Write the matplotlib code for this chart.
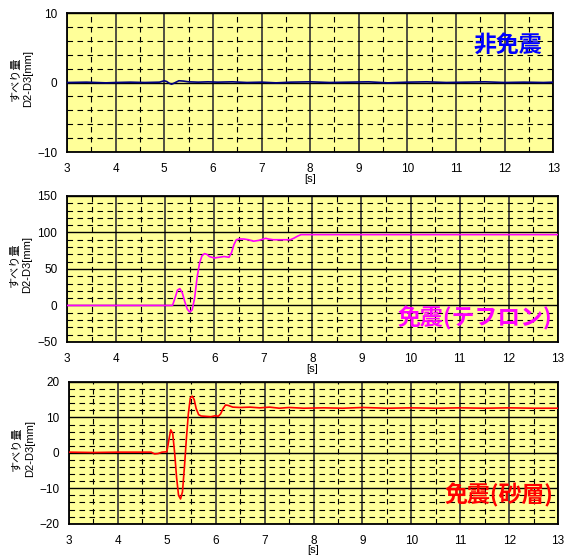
import matplotlib
matplotlib.use('Agg')
import matplotlib.pyplot as plt
from matplotlib.ticker import MultipleLocator

plt.rcParams['font.family'] = ['Liberation Sans', 'Noto Sans CJK JP', 'DejaVu Sans']

# ---------------------------------------------------------------
# data (time [s], slip D2-D3 [mm])
# ---------------------------------------------------------------
t_fix = [3.0, 3.4, 3.8, 4.0, 4.3, 4.6, 4.9, 5.0, 5.05, 5.1, 5.15, 5.2, 5.3, 5.4, 5.5,
         5.7, 5.9, 6.1, 6.4, 6.7, 7.0, 7.3, 7.6, 8.0, 8.4, 8.8, 9.2, 9.6, 10.0, 10.4,
         10.8, 11.2, 11.6, 12.0, 12.4, 12.8, 13.0]
v_fix = [0.0, 0.05, -0.05, 0.0, 0.05, 0.0, 0.05, 0.25, 0.15, -0.1, -0.25, -0.1, 0.25, 0.2, 0.1,
         0.05, 0.1, 0.05, 0.1, 0.0, 0.05, -0.05, 0.05, 0.1, 0.0, 0.05, 0.1, -0.05, 0.05, 0.1,
         0.0, 0.05, 0.1, 0.0, 0.05, 0.0, 0.05]

t_teflon = [3.0, 5.15, 5.2, 5.25, 5.3, 5.35, 5.4, 5.45, 5.5, 5.55, 5.6, 5.65, 5.7, 5.75, 5.8,
            5.85, 5.9, 6.0, 6.1, 6.2, 6.3, 6.35, 6.4, 6.45, 6.5, 6.6, 6.7, 6.8, 6.9, 7.0,
            7.05, 7.1, 7.2, 7.4, 7.55, 7.62, 7.7, 7.77, 13.0]
v_teflon = [0, 0, 10, 21, 23, 17, 5, -5, -9, -6, 10, 38, 58, 68, 71,
            70, 67, 65, 66, 67, 66, 72, 83, 90, 91, 91, 90, 88, 89, 91,
            92, 91, 90, 90, 90, 92, 95, 97, 97]

t_sand = [3.0, 3.5, 4.0, 4.5, 4.68, 4.75, 4.82, 4.9, 5.0, 5.04, 5.08, 5.12, 5.16, 5.2, 5.24,
          5.28, 5.32, 5.36, 5.4, 5.44, 5.48, 5.52, 5.56, 5.6, 5.65, 5.7, 5.8, 5.9, 6.0, 6.05,
          6.1, 6.15, 6.2, 6.25, 6.35, 6.5, 6.7, 6.9, 7.1, 7.3, 7.5, 7.8, 8.2, 8.6, 9.0,
          9.5, 10.0, 10.5, 11.0, 11.5, 12.0, 12.5, 13.0]
v_sand = [0.2, 0.1, 0.2, 0.2, 0.2, -0.3, -0.2, 0.2, 0.3, 3.5, 6.5, 5.5, 0, -7, -12,
          -13, -11, -4, 4, 11, 15.5, 16, 15, 12.5, 10.8, 10.4, 10.3, 10.2, 10.5, 10.3,
          11, 12.5, 13.5, 13.4, 12.9, 12.8, 12.9, 12.7, 12.9, 12.6, 12.8, 12.6, 12.7, 12.6, 12.8,
          12.6, 12.7, 12.6, 12.7, 12.6, 12.7, 12.6, 12.6]

# one entry per panel
panels = [
    dict(t=t_fix, v=v_fix, color='#000080', ylim=(-10, 10), major=10, minor=2,
         label='非免震', lcolor='#0000FF', lpos=(0.977, 0.77),
         rect=[0.118, 0.7266, 0.856, 0.25]),
    dict(t=t_teflon, v=v_teflon, color='#FF00FF', ylim=(-50, 150), major=50, minor=10,
         label='免震(テフロン)', lcolor='#FF00FF', lpos=(0.988, 0.165),
         rect=[0.118, 0.385, 0.864, 0.2626]),
    dict(t=t_sand, v=v_sand, color='#FF0000', ylim=(-20, 20), major=10, minor=2,
         label='免震(砂層)', lcolor='#FF0000', lpos=(0.99, 0.20),
         rect=[0.1215, 0.058, 0.861, 0.255]),
]

fig = plt.figure(figsize=(5.68, 5.56), dpi=100)

for p in panels:
    ax = fig.add_axes(p['rect'])
    ax.set_facecolor('#FFFF99')
    ax.set_xlim(3, 13)
    ax.set_ylim(*p['ylim'])
    ax.xaxis.set_major_locator(MultipleLocator(1))
    ax.xaxis.set_minor_locator(MultipleLocator(0.5))
    ax.yaxis.set_major_locator(MultipleLocator(p['major']))
    ax.yaxis.set_minor_locator(MultipleLocator(p['minor']))

    ax.grid(which='major', axis='x', color='#333333', lw=1.2)
    ax.grid(which='major', axis='y', color='black', lw=1.0)
    ax.grid(which='minor', color='black', lw=0.8, linestyle=(0, (5, 4)))
    ax.set_axisbelow(True)

    ax.plot(p['t'], p['v'], color=p['color'], lw=1.2, zorder=3)

    for s in ax.spines.values():
        s.set_linewidth(1.3)
        s.set_color('black')
    ax.tick_params(which='both', length=0)
    ax.tick_params(axis='x', pad=8, labelsize=8.5)
    ax.tick_params(axis='y', pad=7, labelsize=8.5)

    ax.set_xlabel('[s]', fontsize=8, labelpad=-1)
    ax.text(-0.093, 0.53, 'すべり量\nD2-D3[mm]', transform=ax.transAxes, rotation=90,
            ha='center', va='center', multialignment='center', fontsize=8,
            linespacing=1.3)

    ax.text(p['lpos'][0], p['lpos'][1], p['label'], transform=ax.transAxes,
            ha='right', va='center', fontsize=16.5, fontweight='bold',
            color=p['lcolor'], family=['Noto Sans CJK JP', 'DejaVu Sans'], zorder=5)

fig.savefig('out.png', dpi=100)
